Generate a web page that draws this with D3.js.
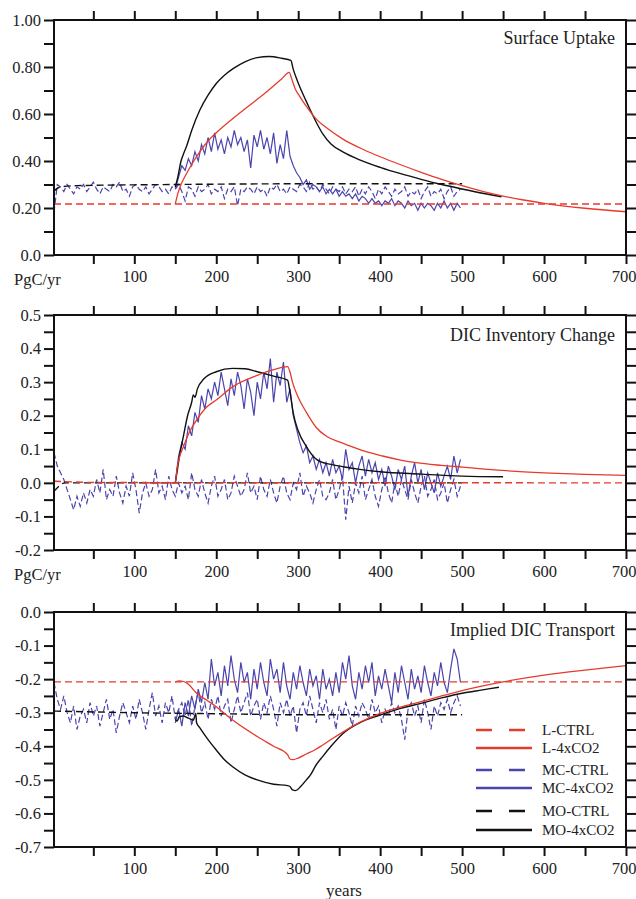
<!DOCTYPE html>
<html>
<head>
<meta charset="utf-8">
<title>DIC budget</title>
<script src="https://d3js.org/d3.v7.min.js"></script>
<style>
  html, body { margin: 0; padding: 0; background: #fff; }
  text { font-family: "Liberation Serif", "DejaVu Serif", serif; fill: #222; }
</style>
</head>
<body>
<div id="chart"></div>
<script>
// ---------------- data ----------------
// x axis
const xMinorTicks = [50, 100, 150, 200, 250, 300, 350, 400, 450, 500, 550, 600, 650, 700];
const xTickLabels = [100, 200, 300, 400, 500, 600, 700];

// noisy MC series are sampled every 4 years
const ctrlStart = 2, mc4xStart = 150, noiseStep = 4;

// ---- Surface Uptake ----
const surfaceYLabels = [0, 0.2, 0.4, 0.6, 0.8, 1.0];
const surfaceLctrl = [[2, 0.217], [700, 0.217]];
const surfaceMOctrl = [[2, 0.272], [10, 0.29], [30, 0.295], [150, 0.300], [300, 0.303], [500, 0.303]];
const surfaceL4x = [[150, 0.217], [153, 0.26], [157, 0.30], [162, 0.335], [170, 0.385], [180, 0.44], [190, 0.485],
  [200, 0.52], [220, 0.58], [240, 0.635], [260, 0.69], [280, 0.75], [289, 0.777], [292, 0.75], [296, 0.71],
  [302, 0.674], [310, 0.632], [322, 0.578], [335, 0.540], [355, 0.492], [380, 0.448], [400, 0.418], [425, 0.384],
  [450, 0.352], [475, 0.322], [500, 0.295], [525, 0.271], [550, 0.251], [575, 0.234], [600, 0.220], [650, 0.199],
  [700, 0.184]];
const surfaceMO4x = [[150, 0.29], [153, 0.33], [157, 0.40], [160, 0.43], [164, 0.465], [170, 0.53], [180, 0.617],
  [190, 0.68], [200, 0.73], [210, 0.765], [221, 0.794], [235, 0.822], [250, 0.84], [265, 0.845], [280, 0.837],
  [291, 0.828], [294, 0.79], [298, 0.75], [302, 0.715], [309, 0.66], [315, 0.615], [322, 0.565], [330, 0.515],
  [340, 0.472], [355, 0.438], [375, 0.405], [400, 0.373], [425, 0.346], [450, 0.322], [475, 0.300], [500, 0.281],
  [525, 0.263], [548, 0.248]];
const surfaceMCctrl = [
  0.18, 0.30, 0.29, 0.27, 0.30, 0.28, 0.26, 0.29, 0.28, 0.30,
  0.27, 0.29, 0.31, 0.28, 0.26, 0.29, 0.28, 0.27, 0.30, 0.29,
  0.31, 0.27, 0.28, 0.25, 0.29, 0.30, 0.28, 0.27, 0.29, 0.26,
  0.28, 0.30, 0.29, 0.27, 0.28, 0.26, 0.29, 0.28, 0.30, 0.27,
  0.23, 0.29, 0.28, 0.25, 0.29, 0.27, 0.28, 0.30, 0.26, 0.28,
  0.27, 0.29, 0.24, 0.28, 0.27, 0.29, 0.21, 0.28, 0.27, 0.29,
  0.28, 0.26, 0.29, 0.27, 0.28, 0.25, 0.29, 0.28, 0.30, 0.27,
  0.28, 0.26, 0.29, 0.28, 0.27, 0.30, 0.29, 0.27, 0.31, 0.28,
  0.29, 0.27, 0.30, 0.28, 0.26, 0.29, 0.28, 0.27, 0.29, 0.26,
  0.28, 0.27, 0.29, 0.25, 0.28, 0.26, 0.29, 0.27, 0.24, 0.28,
  0.26, 0.29, 0.27, 0.25, 0.28, 0.26, 0.27, 0.29, 0.25, 0.27,
  0.26, 0.28, 0.24, 0.27, 0.29, 0.25, 0.27, 0.26, 0.28, 0.24,
  0.27, 0.29, 0.25, 0.27, 0.28];
const surfaceMC4x = [
  0.28, 0.33, 0.38, 0.36, 0.41, 0.38, 0.44, 0.40, 0.47, 0.43,
  0.50, 0.44, 0.52, 0.45, 0.49, 0.43, 0.50, 0.46, 0.53, 0.47,
  0.50, 0.44, 0.49, 0.37, 0.51, 0.46, 0.53, 0.45, 0.50, 0.43,
  0.52, 0.39, 0.47, 0.41, 0.53, 0.42, 0.38, 0.35, 0.33, 0.30,
  0.32, 0.28, 0.30, 0.29, 0.27, 0.29, 0.26, 0.28, 0.26, 0.28,
  0.25, 0.27, 0.25, 0.26, 0.24, 0.26, 0.23, 0.25, 0.24, 0.22,
  0.24, 0.22, 0.23, 0.21, 0.23, 0.22, 0.24, 0.21, 0.23, 0.22,
  0.20, 0.23, 0.21, 0.22, 0.19, 0.22, 0.20, 0.22, 0.21, 0.19,
  0.22, 0.20, 0.23, 0.20, 0.22, 0.19, 0.22, 0.20];

// ---- DIC Inventory Change ----
const inventoryYLabels = [-0.2, -0.1, 0, 0.1, 0.2, 0.3, 0.4, 0.5];
const inventoryLctrl = [[2, 0.005], [60, 0.001], [700, 0.0]];
const inventoryMOctrl = [[2, -0.025], [8, -0.01], [15, 0.0], [500, 0.0]];
const inventoryL4x = [[110, 0.0], [150, 0.0], [152, 0.04], [155, 0.075], [160, 0.108], [168, 0.155], [176, 0.187],
  [188, 0.225], [200, 0.247], [220, 0.286], [250, 0.32], [270, 0.337], [287, 0.346], [290, 0.33], [293, 0.30],
  [300, 0.255], [310, 0.21], [322, 0.165], [335, 0.138], [350, 0.122], [363, 0.11], [380, 0.095], [403, 0.08],
  [425, 0.068], [444, 0.06], [475, 0.052], [500, 0.047], [549, 0.037], [600, 0.03], [650, 0.025], [700, 0.022]];
const inventoryMO4x = [[150, 0.0], [152, 0.03], [155, 0.078], [160, 0.14], [165, 0.2], [170, 0.24], [172, 0.262],
  [174, 0.255], [177, 0.28], [185, 0.31], [200, 0.331], [220, 0.341], [235, 0.34], [250, 0.331], [270, 0.318],
  [287, 0.306], [290, 0.27], [294, 0.207], [300, 0.155], [310, 0.108], [320, 0.075], [327, 0.063], [340, 0.055],
  [355, 0.048], [375, 0.04], [400, 0.033], [450, 0.026], [500, 0.02], [550, 0.018]];
const inventoryMCctrl = [
  0.09, 0.05, 0.03, 0.01, -0.02, -0.05, -0.08, -0.04, -0.07, -0.03,
  -0.06, -0.02, -0.04, 0.01, -0.03, 0.04, -0.05, -0.02, -0.04, 0.02,
  -0.03, -0.06, -0.01, -0.04, 0.03, -0.02, -0.09, -0.03, 0.00, -0.04,
  -0.02, 0.04, -0.03, -0.01, -0.05, 0.02, -0.02, -0.04, 0.00, -0.03,
  -0.01, -0.05, 0.03, -0.02, -0.04, 0.01, -0.03, -0.06, -0.01, 0.02,
  -0.04, -0.02, 0.01, -0.05, -0.03, 0.02, -0.01, -0.04, -0.02, 0.03,
  -0.03, -0.01, -0.05, 0.02, -0.02, -0.04, 0.01, -0.03, -0.06, -0.01,
  0.02, -0.03, -0.05, 0.00, -0.02, 0.03, -0.04, -0.01, -0.03, -0.06,
  -0.02, 0.01, -0.04, -0.05, -0.03, 0.01, -0.05, -0.02, 0.02, -0.11,
  -0.01, -0.06, 0.00, -0.03, 0.02, -0.05, -0.02, 0.01, -0.04, -0.07,
  -0.02, 0.02, -0.03, -0.06, 0.00, -0.04, 0.01, -0.02, -0.05, 0.01,
  -0.03, -0.06, -0.01, 0.02, -0.04, -0.02, 0.01, -0.05, -0.03, 0.00,
  -0.06, -0.02, 0.01, -0.04, -0.01];
const inventoryMC4x = [
  0.00, 0.08, 0.12, 0.10, 0.17, 0.14, 0.21, 0.18, 0.26, 0.22,
  0.28, 0.25, 0.30, 0.26, 0.33, 0.28, 0.23, 0.31, 0.26, 0.33,
  0.29, 0.22, 0.31, 0.27, 0.20, 0.30, 0.25, 0.33, 0.28, 0.37,
  0.24, 0.33, 0.29, 0.36, 0.24, 0.28, 0.20, 0.16, 0.12, 0.09,
  0.11, 0.06, 0.08, 0.04, 0.07, 0.03, 0.06, 0.02, 0.07, 0.03,
  0.05, 0.01, 0.10, 0.04, 0.06, 0.00, 0.05, 0.08, 0.02, 0.07,
  0.03, 0.06, 0.01, 0.04, -0.01, 0.05, 0.02, -0.02, 0.04, 0.01,
  0.05, -0.04, 0.02, 0.06, 0.00, 0.04, -0.02, 0.03, 0.00, -0.03,
  0.03, -0.01, 0.02, 0.05, 0.01, 0.08, 0.03, 0.07];

// ---- Implied DIC Transport ----
const transportYLabels = [-0.7, -0.6, -0.5, -0.4, -0.3, -0.2, -0.1, 0];
const transportLctrl = [[2, -0.208], [700, -0.208]];
const transportMOctrl = [[2, -0.295], [100, -0.30], [200, -0.303], [300, -0.306], [500, -0.306]];
const transportL4x = [[150, -0.208], [155, -0.205], [160, -0.207], [166, -0.215], [176, -0.242], [188, -0.262],
  [200, -0.282], [220, -0.322], [250, -0.371], [270, -0.40], [287, -0.425], [290, -0.438], [293, -0.44],
  [300, -0.435], [310, -0.423], [320, -0.411], [330, -0.396], [340, -0.38], [355, -0.357], [375, -0.329],
  [400, -0.302], [425, -0.283], [450, -0.267], [475, -0.25], [500, -0.234], [550, -0.208], [600, -0.188],
  [650, -0.173], [700, -0.16]];
const transportMO4x = [[150, -0.32], [152, -0.325], [155, -0.312], [160, -0.31], [165, -0.315], [172, -0.322],
  [175, -0.302], [176, -0.33], [180, -0.345], [190, -0.38], [200, -0.411], [210, -0.44], [220, -0.461],
  [235, -0.485], [250, -0.50], [270, -0.513], [287, -0.517], [290, -0.52], [293, -0.53], [297, -0.532],
  [303, -0.52], [310, -0.50], [315, -0.485], [322, -0.455], [330, -0.43], [340, -0.40], [355, -0.361],
  [375, -0.33], [400, -0.307], [425, -0.287], [450, -0.272], [475, -0.256], [500, -0.242], [525, -0.232], [545, -0.224]];
const transportMCctrl = [
  -0.21, -0.26, -0.29, -0.25, -0.30, -0.33, -0.28, -0.35, -0.31, -0.29,
  -0.33, -0.27, -0.31, -0.28, -0.34, -0.30, -0.26, -0.32, -0.29, -0.36,
  -0.31, -0.27, -0.30, -0.33, -0.28, -0.32, -0.26, -0.30, -0.35, -0.29,
  -0.24, -0.31, -0.28, -0.33, -0.27, -0.30, -0.25, -0.32, -0.29, -0.27,
  -0.31, -0.26, -0.34, -0.28, -0.24, -0.30, -0.27, -0.32, -0.26, -0.29,
  -0.25, -0.31, -0.28, -0.26, -0.33, -0.29, -0.25, -0.30, -0.27, -0.24,
  -0.31, -0.28, -0.26, -0.32, -0.27, -0.30, -0.25, -0.29, -0.34, -0.27,
  -0.30, -0.26, -0.31, -0.28, -0.36, -0.29, -0.27, -0.31, -0.25, -0.29,
  -0.33, -0.27, -0.30, -0.26, -0.32, -0.29, -0.35, -0.28, -0.31, -0.27,
  -0.30, -0.34, -0.28, -0.31, -0.27, -0.29, -0.32, -0.26, -0.30, -0.28,
  -0.33, -0.29, -0.31, -0.27, -0.30, -0.28, -0.32, -0.38, -0.29, -0.27,
  -0.31, -0.28, -0.33, -0.26, -0.30, -0.35, -0.28, -0.31, -0.27, -0.29,
  -0.26, -0.30, -0.27, -0.25, -0.28];
const transportMC4x = [
  -0.33, -0.29, -0.34, -0.27, -0.31, -0.25, -0.29, -0.23, -0.27, -0.21,
  -0.26, -0.14, -0.22, -0.18, -0.25, -0.16, -0.22, -0.13, -0.20, -0.24,
  -0.15, -0.21, -0.18, -0.26, -0.17, -0.23, -0.15, -0.21, -0.25, -0.14,
  -0.20, -0.17, -0.24, -0.15, -0.22, -0.26, -0.18, -0.23, -0.16, -0.21,
  -0.25, -0.17, -0.22, -0.19, -0.26, -0.17, -0.23, -0.20, -0.25, -0.18,
  -0.24, -0.15, -0.20, -0.13, -0.22, -0.26, -0.18, -0.23, -0.16, -0.21,
  -0.15, -0.25, -0.19, -0.23, -0.17, -0.22, -0.27, -0.18, -0.24, -0.16,
  -0.21, -0.26, -0.17, -0.23, -0.19, -0.24, -0.16, -0.21, -0.25, -0.18,
  -0.22, -0.15, -0.21, -0.24, -0.17, -0.11, -0.14, -0.21];

const legendNames = ["L-CTRL", "L-4xCO2", "MC-CTRL", "MC-4xCO2", "MO-CTRL", "MO-4xCO2"];

// ---------------- layout ----------------
const red = "#e63a2c", blue = "#4a45ad", black = "#111";
const W = 636, H = 899;
const left = 54, right = 626, plotH = 235;

// turn the evenly sampled MC arrays into [year, value] pairs
function sampled(values, start) {
  return values.map((v, i) => [start + i * noiseStep, v]);
}

const panels = [
  { title: "Surface Uptake", top: 20, domain: [0, 1], minorStep: 0.1, labels: surfaceYLabels,
    fmt: v => Math.abs(v) < 1e-9 ? "0.0" : v.toFixed(2), unit: "PgC/yr", titleY: 44,
    lctrl: surfaceLctrl, moctrl: surfaceMOctrl, l4x: surfaceL4x, mo4x: surfaceMO4x,
    mcctrl: sampled(surfaceMCctrl, ctrlStart), mc4x: sampled(surfaceMC4x, mc4xStart) },
  { title: "DIC Inventory Change", top: 315, domain: [-0.2, 0.5], minorStep: 0.05, labels: inventoryYLabels,
    fmt: v => Math.abs(v) < 1e-9 ? "0.0" : v.toFixed(1), unit: "PgC/yr", titleY: 341,
    lctrl: inventoryLctrl, moctrl: inventoryMOctrl, l4x: inventoryL4x, mo4x: inventoryMO4x,
    mcctrl: sampled(inventoryMCctrl, ctrlStart), mc4x: sampled(inventoryMC4x, mc4xStart) },
  { title: "Implied DIC Transport", top: 612, domain: [-0.7, 0], minorStep: 0.05, labels: transportYLabels,
    fmt: v => Math.abs(v) < 1e-9 ? "0.0" : v.toFixed(1), unit: null, titleY: 636, legend: true,
    lctrl: transportLctrl, moctrl: transportMOctrl, l4x: transportL4x, mo4x: transportMO4x,
    mcctrl: sampled(transportMCctrl, ctrlStart), mc4x: sampled(transportMC4x, mc4xStart) }
];

const svg = d3.select("#chart").append("svg")
  .attr("width", W)
  .attr("height", H);

const x = d3.scaleLinear().domain([2, 700]).range([left, right]);

panels.forEach(p => {
  const y = d3.scaleLinear().domain(p.domain).range([p.top + plotH, p.top]);
  const minor = d3.range(p.domain[0], p.domain[1] + p.minorStep / 2, p.minorStep).map(v => +v.toFixed(3));
  const isLabel = v => p.labels.some(l => Math.abs(l - v) < 1e-6);

  const g = svg.append("g");

  const smooth = d3.line().x(d => x(d[0])).y(d => y(d[1])).curve(d3.curveMonotoneX);
  const jagged = d3.line().x(d => x(d[0])).y(d => y(d[1]));

  // MC series first, the others sit on top
  g.append("path").datum(p.mcctrl).attr("d", jagged)
    .attr("fill", "none").attr("stroke", blue).attr("stroke-width", 1.2)
    .attr("stroke-dasharray", "6,3");
  g.append("path").datum(p.mc4x).attr("d", jagged)
    .attr("fill", "none").attr("stroke", blue).attr("stroke-width", 1.2);

  // control runs
  g.append("path").datum(p.moctrl).attr("d", smooth)
    .attr("fill", "none").attr("stroke", black).attr("stroke-width", 1.4)
    .attr("stroke-dasharray", "7,4");
  g.append("path").datum(p.lctrl).attr("d", smooth)
    .attr("fill", "none").attr("stroke", red).attr("stroke-width", 1.4)
    .attr("stroke-dasharray", "7,4");

  // 4xCO2 runs
  g.append("path").datum(p.mo4x).attr("d", smooth)
    .attr("fill", "none").attr("stroke", black).attr("stroke-width", 1.4);
  g.append("path").datum(p.l4x).attr("d", smooth)
    .attr("fill", "none").attr("stroke", red).attr("stroke-width", 1.3);

  // axes: all ticks point outwards
  const axes = g.append("g").style("font-size", "16.5px");
  axes.append("g").attr("transform", `translate(${left},0)`)
    .call(d3.axisLeft(y).tickValues(minor).tickSize(10).tickPadding(3).tickSizeOuter(0)
      .tickFormat(v => isLabel(v) ? p.fmt(v) : ""));
  axes.append("g").attr("transform", `translate(${right},0)`)
    .call(d3.axisRight(y).tickValues(minor).tickSize(10).tickSizeOuter(0).tickFormat(""));
  axes.append("g").attr("transform", `translate(0,${p.top})`)
    .call(d3.axisTop(x).tickValues(xMinorTicks.slice(0, -1)).tickSize(9).tickSizeOuter(0).tickFormat(""));
  const bottom = axes.append("g").attr("transform", `translate(0,${p.top + plotH})`)
    .call(d3.axisBottom(x).tickValues(xMinorTicks).tickSize(9).tickPadding(6).tickSizeOuter(0)
      .tickFormat(v => xTickLabels.includes(v) ? v : ""));
  // the last label runs up to the page edge, as in the original
  bottom.selectAll(".tick text").filter(v => v === 700)
    .attr("text-anchor", "end").attr("x", 636 - right);
  axes.selectAll(".domain").remove();
  axes.selectAll("g").attr("font-size", null).attr("font-family", null);
  axes.selectAll(".tick line").attr("stroke", black).attr("stroke-width", 2);
  axes.selectAll("text").attr("fill", "#222");

  g.append("rect")
    .attr("x", left).attr("y", p.top)
    .attr("width", right - left).attr("height", plotH)
    .attr("fill", "none").attr("stroke", black).attr("stroke-width", 2);

  g.append("text")
    .attr("x", 615).attr("y", p.titleY)
    .attr("text-anchor", "end")
    .style("font-size", "18px")
    .text(p.title);

  if (p.unit) {
    g.append("text")
      .attr("x", 14).attr("y", p.top + plotH + 30)
      .style("font-size", "16.5px")
      .text(p.unit);
  }

  if (p.legend) {
    const styles = [
      { color: red, dash: "16,17" }, { color: red, dash: null },
      { color: blue, dash: "16,17" }, { color: blue, dash: null },
      { color: black, dash: "16,17" }, { color: black, dash: null }
    ];
    const rowY = [118, 136, 158, 176, 199, 218];
    legendNames.forEach((name, i) => {
      const ly = p.top + rowY[i];
      g.append("line")
        .attr("x1", 476).attr("x2", 532)
        .attr("y1", ly).attr("y2", ly)
        .attr("stroke", styles[i].color).attr("stroke-width", 2.6)
        .attr("stroke-dasharray", styles[i].dash);
      g.append("text")
        .attr("x", 542).attr("y", ly + 5)
        .style("font-size", "15px")
        .text(name);
    });
  }
});

// shared x label
svg.append("text")
  .attr("x", 344).attr("y", 896)
  .attr("text-anchor", "middle")
  .style("font-size", "17px")
  .text("years");
</script>
</body>
</html>
